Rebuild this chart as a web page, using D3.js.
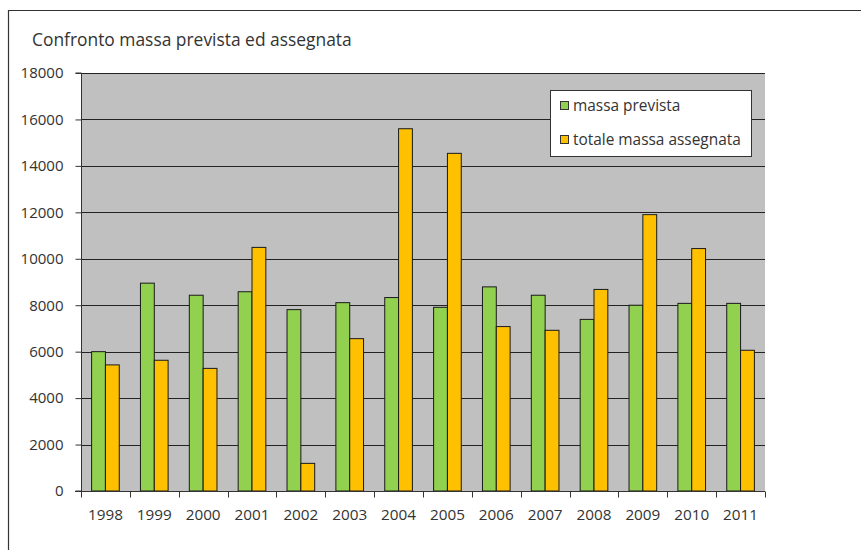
<!DOCTYPE html>
<html>
<head>
<meta charset="utf-8">
<script src="https://cdn.jsdelivr.net/npm/d3@7"></script>
<style>
  html, body { margin: 0; padding: 0; background: #fff; }
  svg { display: block; }
  text { font-family: "Open Sans", Lato, sans-serif; fill: #333; }
</style>
</head>
<body>
<svg id="chart" width="861" height="550"></svg>
<script>
const years = ["1998","1999","2000","2001","2002","2003","2004","2005","2006","2007","2008","2009","2010","2011"];
const massaPrevista = [6000, 8950, 8430, 8580, 7810, 8110, 8330, 7910, 8790, 8430, 7390, 8000, 8080, 8080];
const massaAssegnata = [5430, 5630, 5280, 10490, 1190, 6560, 15600, 14540, 7080, 6920, 8680, 11900, 10440, 6060];
const seriesNames = ["massa prevista", "totale massa assegnata"];
const seriesColors = ["#92D050", "#FFC000"];
const yTicks = [0, 2000, 4000, 6000, 8000, 10000, 12000, 14000, 16000, 18000];
const title = "Confronto massa prevista ed assegnata";

const svg = d3.select("#chart");
const plot = { left: 81, right: 765, top: 73, bottom: 491 };

// fit a font size so that a sample string spans a target width
function fitSize(str, target, base) {
  const t = svg.append("text").attr("font-size", base).text(str);
  const w = t.node().getComputedTextLength();
  t.remove();
  return w > 0 ? base * target / w : base;
}
const titleSize = fitSize(title, 320, 16);
const tickSize = fitSize("18000", 43, 14);
const xSize = fitSize("2005", 35, 14);
const legSize = fitSize("totale massa assegnata", 168, 14);

// outer frame (top and left)
svg.append("path")
  .attr("d", `M8.5,550 L8.5,10.5 L861,10.5`)
  .attr("fill", "none").attr("stroke", "#333").attr("stroke-width", 1.2);

svg.append("text").attr("x", 32).attr("y", 46)
  .attr("font-size", titleSize).text(title);

const x = d3.scaleBand().domain(years).range([plot.left, plot.right]).paddingInner(0).paddingOuter(0);
const y = d3.scaleLinear().domain([0, 18000]).range([plot.bottom, plot.top]);

// plot background
svg.append("rect").attr("x", plot.left).attr("y", plot.top)
  .attr("width", plot.right - plot.left).attr("height", plot.bottom - plot.top)
  .attr("fill", "#C0C0C0");

// gridlines
svg.append("g").selectAll("line").data(yTicks.filter(d => d > 0)).join("line")
  .attr("x1", plot.left).attr("x2", plot.right)
  .attr("y1", d => Math.round(y(d)) + 0.5).attr("y2", d => Math.round(y(d)) + 0.5)
  .attr("stroke", "#222").attr("stroke-width", 1);

// bars
const bw = x.bandwidth();
const barW = bw * 0.283;
const x1 = d3.scaleBand().domain([0, 1]).range([0, barW * 2]);
const g = svg.append("g");
years.forEach((yr, i) => {
  [massaPrevista[i], massaAssegnata[i]].forEach((v, s) => {
    g.append("rect")
      .attr("x", x(yr) + bw / 2 - barW + x1(s))
      .attr("y", y(v))
      .attr("width", x1.bandwidth())
      .attr("height", y(0) - y(v))
      .attr("fill", seriesColors[s])
      .attr("stroke", "#1a1a1a").attr("stroke-width", 1);
  });
});

// y axis
const yAxis = d3.axisLeft(y).tickValues(yTicks).tickSize(6).tickPadding(12).tickFormat(d3.format("d"));
const ya = svg.append("g").attr("transform", `translate(${plot.left + 0.5},0)`).call(yAxis);
ya.select(".domain").attr("stroke", "#333").attr("d", `M-6,${y(18000)}H0V${y(0)}H-6`);
ya.selectAll(".tick line").attr("stroke", "#333");
ya.selectAll("text").attr("font-size", tickSize).attr("fill", "#333").style("font-family", "'Open Sans', Lato, sans-serif");

// x axis
const xa = svg.append("g").attr("transform", `translate(0,${plot.bottom + 0.5})`);
xa.append("line").attr("x1", plot.left - 6).attr("x2", plot.right).attr("stroke", "#333");
const bounds = years.map(d => x(d)).concat([plot.right]);
xa.selectAll("line.tk").data(bounds).join("line").attr("class", "tk")
  .attr("x1", d => Math.round(d) + 0.5).attr("x2", d => Math.round(d) + 0.5)
  .attr("y1", 0).attr("y2", 6).attr("stroke", "#333");
xa.selectAll("text").data(years).join("text")
  .attr("x", d => x(d) + bw / 2).attr("y", 28)
  .attr("text-anchor", "middle").attr("font-size", xSize).text(d => d);

// legend
const lg = svg.append("g");
lg.append("rect").attr("x", 550.5).attr("y", 90.5).attr("width", 201).attr("height", 66)
  .attr("fill", "#fff").attr("stroke", "#333").attr("stroke-width", 1);
seriesNames.forEach((n, i) => {
  const cy = 106 + i * 34;
  lg.append("rect").attr("x", 560.5).attr("y", cy - 4.5).attr("width", 8).attr("height", 8)
    .attr("fill", seriesColors[i]).attr("stroke", "#333");
  lg.append("text").attr("x", 573).attr("y", cy + 5).attr("font-size", legSize).text(n);
});
</script>
</body>
</html>
